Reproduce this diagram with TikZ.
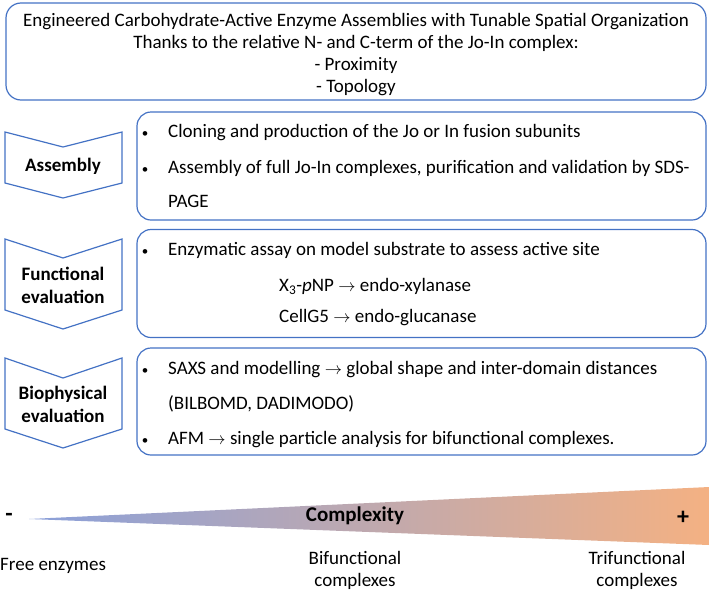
\documentclass[tikz,border=0pt]{standalone}
\usepackage{fontspec}
\setmainfont{Carlito}
\usetikzlibrary{positioning}
\definecolor{boxblue}{RGB}{68,114,196}
\definecolor{coolblue}{RGB}{138,160,218}
\definecolor{warmorange}{RGB}{244,177,131}

\begin{document}
\begin{tikzpicture}[x=1pt, y=-1pt,
		font=\fontsize{19}{22}\selectfont,
		frame_style/.style={draw=boxblue, line width=1.2pt, rounded corners=14pt, minimum width=569pt, minimum height=108pt, inner sep=0pt},
		chevron_style/.style={draw=boxblue, line width=1.2pt, line join=miter},
		stage_style/.style={font=\fontsize{19}{23}\selectfont\bfseries, align=center, inner sep=0pt},
		line_style/.style={anchor=mid west, inner sep=0pt},
		dot_style/.style={anchor=mid, inner sep=0pt, font=\fontsize{13}{15}\selectfont}]
		
		\useasboundingbox (0,0) rectangle (709,592);
		
		% headline box
		\node[draw=boxblue, line width=1.2pt, rounded corners=15pt, minimum width=700pt, minimum height=97pt, inner sep=0pt] (title) at (356,51.5) {};
		\node[align=center, inner sep=0pt] (title_text) at (356,54.5)
		{Engineered Carbohydrate-Active Enzyme Assemblies with Tunable Spatial Organization\\
		Thanks to the relative N- and C-term of the Jo-In complex:\\
		- Proximity\\
		- Topology};
		
		% stage boxes
		\node[frame_style] (box_a) at (421.5,166) {};
		\node[frame_style] (box_f) at (421.5,283.5) {};
		\node[frame_style, minimum height=107pt] (box_b) at (421.5,401.5) {};
		
		% chevrons
		\draw[chevron_style] (5,132) -- (63,147) -- (122,132) -- (122,183) -- (63,198) -- (5,183) -- cycle;
		\draw[chevron_style] (5,239) -- (63,258) -- (122,239) -- (122,310) -- (63,329) -- (5,310) -- cycle;
		\draw[chevron_style] (5,358) -- (63,378) -- (122,358) -- (122,429) -- (63,448) -- (5,429) -- cycle;
		\node[stage_style] (assembly) at (63,166) {Assembly};
		\node[stage_style] (functional) at (63,285) {Functional\\evaluation};
		\node[stage_style] (biophysical) at (63,404) {Biophysical\\evaluation};
		
		% assembly
		\node[dot_style] (dot_a1) at (145,135) {\textbullet};
		\node[line_style] (a1) at (168,135) {Cloning and production of the Jo or In fusion subunits};
		\node[dot_style] (dot_a2) at (145,171) {\textbullet};
		\node[line_style] (a2) at (168,171) {Assembly of full Jo-In complexes, purification and validation by SDS-};
		\node[line_style] (a3) at (168,205) {PAGE};
		
		% functional evaluation
		\node[dot_style] (dot_f1) at (145,253) {\textbullet};
		\node[line_style] (f1) at (168,253) {Enzymatic assay on model substrate to assess active site};
		\node[line_style] (f2) at (279,289) {X\textsubscript{3}-\textit{p}NP $\rightarrow$ endo-xylanase};
		\node[line_style] (f3) at (279,320) {CellG5 $\rightarrow$ endo-glucanase};
		
		% biophysical evaluation
		\node[dot_style] (dot_b1) at (145,372) {\textbullet};
		\node[line_style] (b1) at (168,372) {SAXS and modelling $\rightarrow$ global shape and inter-domain distances};
		\node[line_style] (b2) at (168,407) {(BILBOMD, DADIMODO)};
		\node[dot_style] (dot_b3) at (145,442) {\textbullet};
		\node[line_style] (b3) at (168,442) {AFM $\rightarrow$ single particle analysis for bifunctional complexes.};
		
		% complexity wedge
		\path[left color=coolblue, right color=warmorange] (29,519) -- (709,487) -- (709,545) -- cycle;
		\node[stage_style, font=\fontsize{24}{26}\selectfont\bfseries] (minus) at (9,517) {-};
		\node[stage_style, font=\fontsize{24}{26}\selectfont\bfseries] (plus) at (683,518) {+};
		\node[stage_style, font=\fontsize{21}{24}\selectfont\bfseries] (complexity) at (355,516) {Complexity};
		\node[anchor=mid west, inner sep=0pt] (free) at (0,568) {Free enzymes};
		\node[align=center, inner sep=0pt] (bi) at (355,570) {Bifunctional\\complexes};
		\node[align=center, inner sep=0pt] (tri) at (637,570) {Trifunctional\\complexes};
		
		\end{tikzpicture}
\end{document}
